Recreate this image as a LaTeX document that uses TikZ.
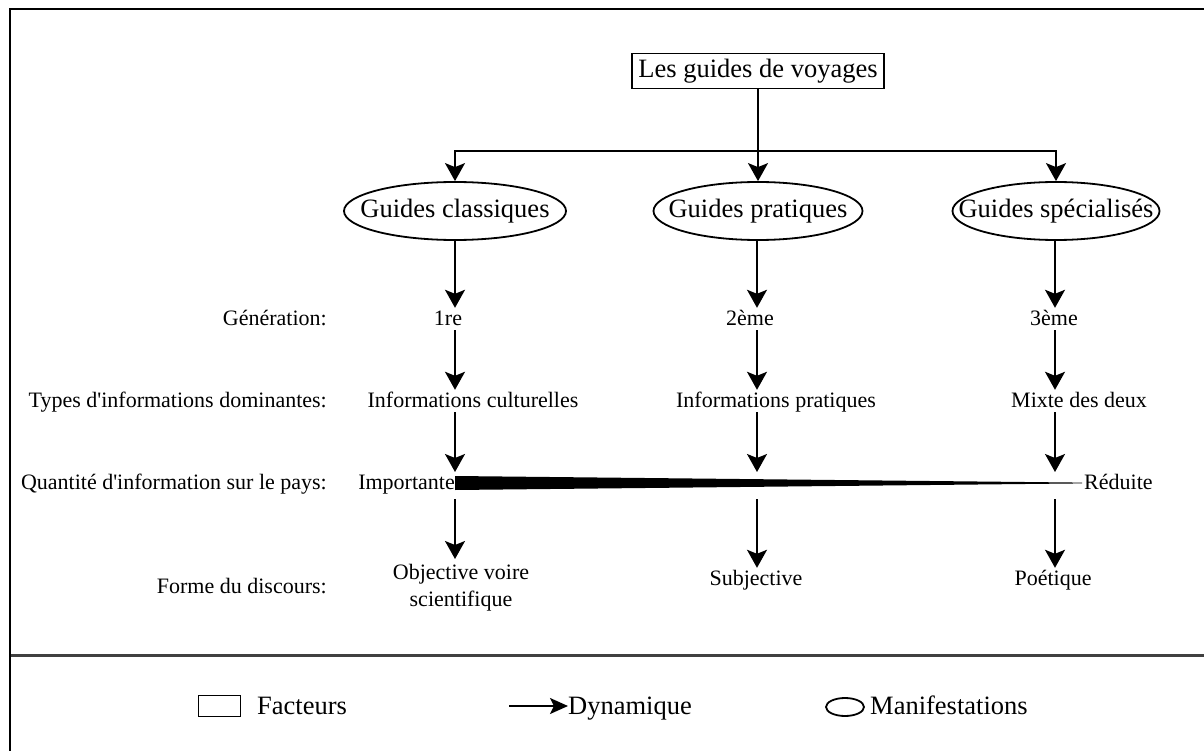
\documentclass[tikz,border=0pt]{standalone}
\usepackage{fontspec}
\setmainfont{Liberation Serif}
\usetikzlibrary{arrows.meta,shapes.geometric}
\begin{document}
\begin{tikzpicture}[x=1pt,y=-1pt,
  conn/.style={line width=1.8pt},
  dyn/.style={conn,-{Stealth[length=18pt,width=20pt,inset=4pt]}},
  lbl/.style={font=\fontsize{22}{27}\selectfont, inner sep=0pt, text height=15pt, text depth=5pt},
  rowlbl/.style={lbl, anchor=base east},
  coltxt/.style={lbl, anchor=base},
  manif/.style={ellipse, draw, line width=1.8pt, fill=white, inner sep=0pt, minimum height=58pt, font=\fontsize{26.5}{30}\selectfont},
  factor/.style={draw, line width=1.8pt, inner sep=0pt, minimum width=252pt, minimum height=35pt, font=\fontsize{26.5}{30}\selectfont},
  legtxt/.style={font=\fontsize{26.5}{30}\selectfont, inner sep=0pt, anchor=base west}
]
\useasboundingbox (0,0) rectangle (1204,751);
\fill[white] (0,0) rectangle (1204,751);
% frame and separator
\draw[line width=2pt] (9.5,751) -- (9.5,9.5) -- (1204,9.5);
\draw[line width=3pt, black!75] (10.5,655) -- (1204,655);

% column coordinates
\coordinate (c1) at (455,0);
\coordinate (c2) at (757,0);
\coordinate (c3) at (1055,0);

% title and manifestations
\node[factor] (title) at (758,71) {Les guides de voyages};
\node[manif, minimum width=222pt] (gc) at (455,211) {\makebox[0pt]{Guides classiques}};
\node[manif, minimum width=209pt] (gp) at (758,211) {\makebox[0pt]{Guides pratiques}};
\node[manif, minimum width=207pt] (gs) at (1056,211) {\makebox[0pt]{Guides spécialisés}};

\coordinate (j) at (758,151);
\draw[conn] (title.south) -- (j);
\draw[dyn] (j) -| (gc.north);
\draw[dyn] (j) -- (gp.north);
\draw[dyn] (j) -| (gs.north);

% row labels
\node[rowlbl] (rgen) at (327,325) {Génération:};
\node[rowlbl] (rtyp) at (327,407) {Types d\textquotesingle informations dominantes:};
\node[rowlbl] (rqua) at (327,489) {Quantité d\textquotesingle information sur le pays:};
\node[rowlbl] (rfor) at (327,593) {Forme du discours:};

% column 1
\node[coltxt] (gen1) at (448,325) {1re};
\node[coltxt] (typ1) at (473,407) {Informations culturelles};
\node[rowlbl] (imp) at (455,489) {Importante};
\node[lbl, align=center, text height=, text depth=, anchor=north] (for1) at (461,564) {Objective voire\\scientifique};
% column 2
\node[coltxt] (gen2) at (750,325) {2ème};
\node[coltxt] (typ2) at (776,407) {Informations pratiques};
\node[coltxt] (for2) at (756,585) {Subjective};
% column 3
\node[coltxt] (gen3) at (1054,325) {3ème};
\node[coltxt] (typ3) at (1079,407) {Mixte des deux};
\node[lbl, anchor=base west] (red) at (1084,489) {Réduite};
\node[coltxt] (for3) at (1053,585) {Poétique};

% wedge (quantity)
\fill (455,476) -- (1082,482.6) -- (1082,483.4) -- (455,490) -- cycle;

% bar coordinates
\coordinate (qa1) at (455,472); \coordinate (qb1) at (455,499);
\coordinate (qa2) at (757,472); \coordinate (qb2) at (757,499);
\coordinate (qa3) at (1055,472); \coordinate (qb3) at (1055,499);

% arrows column 1
\draw[dyn, shorten >=2pt] (gc.south) -- (gen1.north -| c1);
\draw[dyn, shorten >=2pt] (gen1.south -| c1) -- (typ1.north -| c1);
\draw[dyn] (typ1.south -| c1) -- (qa1);
\draw[dyn, shorten >=5pt] (qb1) -- (for1.north -| c1);
% arrows column 2
\draw[dyn, shorten >=2pt] (gp.south -| c2) -- (gen2.north -| c2);
\draw[dyn, shorten >=2pt] (gen2.south -| c2) -- (typ2.north -| c2);
\draw[dyn] (typ2.south -| c2) -- (qa2);
\draw[dyn, shorten >=2pt] (qb2) -- (for2.north -| c2);
% arrows column 3
\draw[dyn, shorten >=2pt] (gs.south -| c3) -- (gen3.north -| c3);
\draw[dyn, shorten >=2pt] (gen3.south -| c3) -- (typ3.north -| c3);
\draw[dyn] (typ3.south -| c3) -- (qa3);
\draw[dyn, shorten >=2pt] (qb3) -- (for3.north -| c3);

% legend
\node[draw, line width=1.8pt, inner sep=0pt, minimum width=42pt, minimum height=21pt] (lf) at (219.5,706) {};
\node[legtxt] (lft) at (257,714) {Facteurs};
\node[legtxt] (ldt) at (568,714) {Dynamique};
\coordinate (la) at (509,706);
\draw[conn, -{Stealth[length=18pt,width=16pt,inset=4pt]}] (la) -- (ldt.west |- la);
\node[ellipse, draw, line width=1.8pt, inner sep=0pt, minimum width=38pt, minimum height=18pt] (lm) at (845,707) {};
\node[legtxt] (lmt) at (870,714) {Manifestations};
\end{tikzpicture}
\end{document}
